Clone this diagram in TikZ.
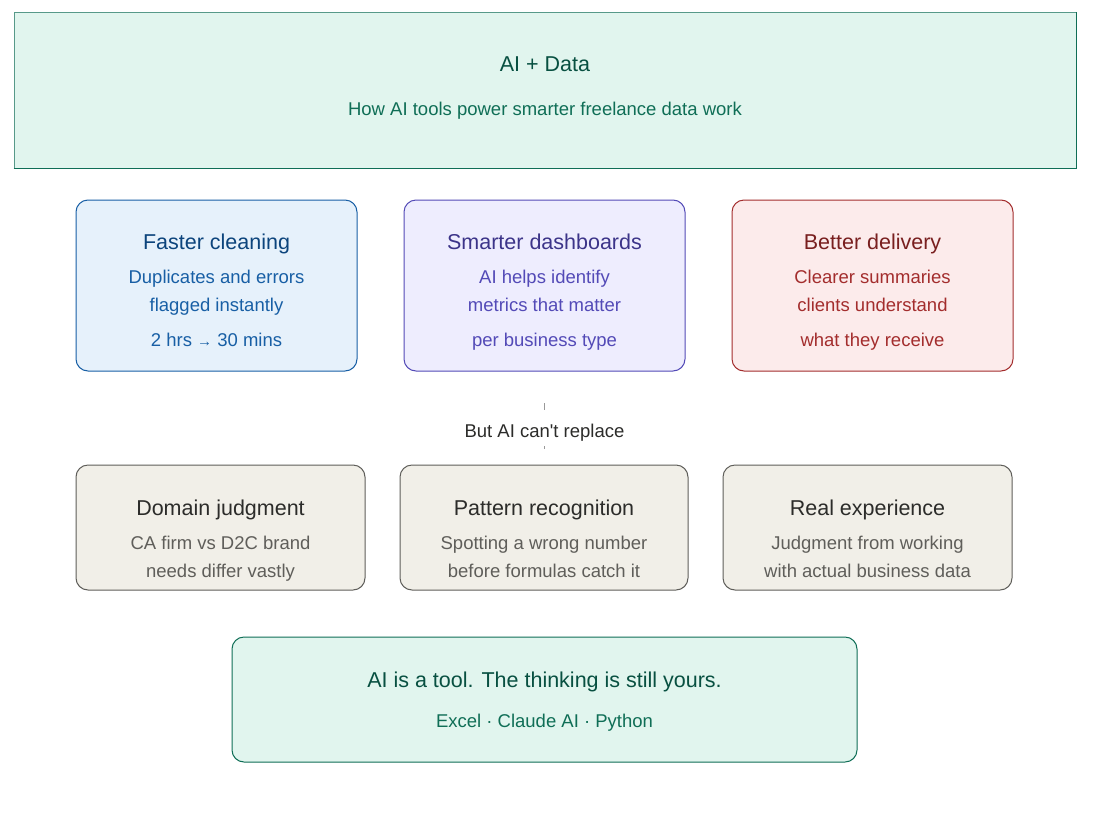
\documentclass[tikz,border=0pt]{standalone}
\usepackage{fontspec}
\setmainfont{Liberation Sans}
\definecolor{tealfill}{HTML}{E1F5EE}
\definecolor{tealline}{HTML}{0F6E56}
\definecolor{tealdark}{HTML}{085041}
\definecolor{bluefill}{HTML}{E6F1FB}
\definecolor{blueline}{HTML}{185FA5}
\definecolor{bluedark}{HTML}{0C447C}
\definecolor{purpfill}{HTML}{EEEDFE}
\definecolor{purpline}{HTML}{534AB7}
\definecolor{purpdark}{HTML}{3C3489}
\definecolor{redfill}{HTML}{FCEBEB}
\definecolor{redline}{HTML}{A32D2D}
\definecolor{reddark}{HTML}{791F1F}
\definecolor{grayfill}{HTML}{F1EFE8}
\definecolor{grayline}{HTML}{5F5E5A}
\definecolor{graydark}{HTML}{2C2C2A}
\begin{document}
\begin{tikzpicture}[x=1pt,y=-1pt,
  card/.style={draw, rounded corners=12pt, line width=1pt, inner sep=0pt},
  ttl/.style={inner sep=0pt, anchor=base, yshift=-7.7pt, font=\fontsize{21.5}{26}\selectfont},
  body/.style={inner sep=0pt, anchor=base, yshift=-6.6pt, font=\fontsize{18.5}{22}\selectfont},
]
\useasboundingbox (0,0) rectangle (1100,825);
\fill[white] (0,0) rectangle (1100,825);

% header
\node[draw=tealline!70, fill=tealfill, line width=1pt, inner sep=0pt,
      minimum width=1062pt, minimum height=156pt] (hdr) at (545,90) {};
\draw[tealline, line width=1.2pt] (hdr.south west) -- (hdr.south east) -- (hdr.north east);
\node[ttl, text=tealdark] (hdrt) at (545,64) {AI + Data};
\node[body, text=tealline] (hdrs) at (545,109) {How AI tools power smarter freelance data work};

% row 1
\node[card, draw=blueline, fill=bluefill, minimum width=281pt, minimum height=171pt] (b1) at (216.5,285.5) {};
\node[ttl, text=bluedark] (b1t) at (216.5,242) {Faster cleaning};
\node[body, text=blueline] (b1a) at (216.5,277) {Duplicates and errors};
\node[body, text=blueline] (b1b) at (216.5,305) {flagged instantly};
\node[body, text=blueline] (b1c) at (216.5,340) {2 hrs {\fontsize{15}{15}\selectfont →} 30 mins};

\node[card, draw=purpline, fill=purpfill, minimum width=281pt, minimum height=171pt] (b2) at (544.5,285.5) {};
\node[ttl, text=purpdark] (b2t) at (544.5,242) {Smarter dashboards};
\node[body, text=purpline] (b2a) at (544.5,277) {AI helps identify};
\node[body, text=purpline] (b2b) at (544.5,305) {metrics that matter};
\node[body, text=purpline] (b2c) at (544.5,340) {per business type};

\node[card, draw=redline, fill=redfill, minimum width=281pt, minimum height=171pt] (b3) at (872.5,285.5) {};
\node[ttl, text=reddark] (b3t) at (872.5,242) {Better delivery};
\node[body, text=redline] (b3a) at (872.5,277) {Clearer summaries};
\node[body, text=redline] (b3b) at (872.5,305) {clients understand};
\node[body, text=redline] (b3c) at (872.5,340) {what they receive};

% connector with label
\coordinate (ct) at (544.5,403);
\coordinate (cb) at (544.5,449);
\draw[gray!80, line width=0.8pt] (ct) -- (cb);
\fill[white] (455,410) rectangle (634,446);
\node[body, text=graydark] (lbl) at (544.5,431) {But AI can\textquotesingle t replace};

% row 2
\node[card, draw=grayline, fill=grayfill, minimum width=289pt, minimum height=125pt] (g1) at (220.5,527.5) {};
\node[ttl, text=graydark] (g1t) at (220.5,508) {Domain judgment};
\node[body, text=grayline] (g1a) at (220.5,543) {CA firm vs D2C brand};
\node[body, text=grayline] (g1b) at (220.5,571) {needs differ vastly};

\node[card, draw=grayline, fill=grayfill, minimum width=288pt, minimum height=125pt] (g2) at (544,527.5) {};
\node[ttl, text=graydark] (g2t) at (544,508) {Pattern recognition};
\node[body, text=grayline] (g2a) at (544,543) {Spotting a wrong number};
\node[body, text=grayline] (g2b) at (544,571) {before formulas catch it};

\node[card, draw=grayline, fill=grayfill, minimum width=289pt, minimum height=125pt] (g3) at (867.5,527.5) {};
\node[ttl, text=graydark] (g3t) at (867.5,508) {Real experience};
\node[body, text=grayline] (g3a) at (867.5,543) {Judgment from working};
\node[body, text=grayline] (g3b) at (867.5,571) {with actual business data};

% bottom
\node[card, draw=tealline, fill=tealfill, minimum width=625pt, minimum height=125pt] (ft) at (544.5,699.5) {};
\node[ttl, text=tealdark] (ftt) at (544.5,680) {AI is a tool. The thinking is still yours.};
\node[body, text=tealline] (fts) at (544.5,721) {Excel · Claude AI · Python};
\end{tikzpicture}
\end{document}
